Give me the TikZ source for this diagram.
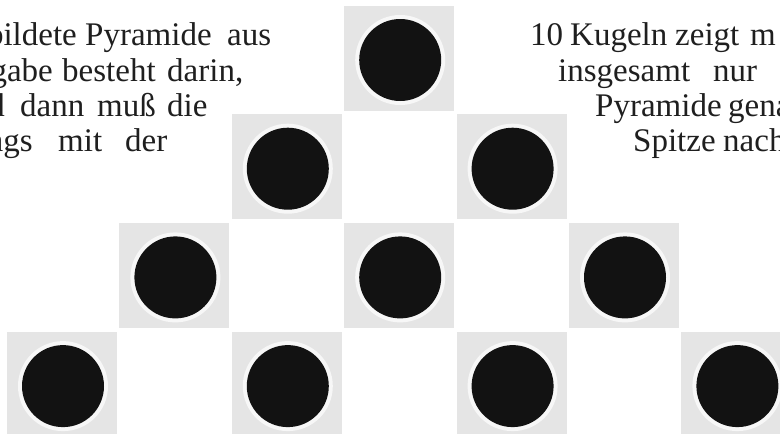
\documentclass[tikz,border=0pt]{standalone}
\usepackage{fontspec}
\setmainfont{Liberation Serif}
\begin{document}
\begin{tikzpicture}[x=1pt,y=-1pt,
  tile/.style={rectangle,fill=black!10,minimum width=110pt,minimum height=105pt,inner sep=0pt},
  halo/.style={circle,fill=black!3,minimum size=90pt,inner sep=0pt},
  ball/.style={circle,fill=black!93,minimum size=82pt,inner sep=0pt},
  txtL/.style={anchor=base west,inner sep=0pt,text=black!88,font=\fontsize{33}{36}\selectfont},
  txtR/.style={anchor=base east,inner sep=0pt,text=black!88,font=\fontsize{33}{36}\selectfont}]
\useasboundingbox (0,0) rectangle (780,434);
\fill[white] (0,0) rectangle (780,434);
\foreach \r in {0,1,2,3}{
  \foreach \i in {0,...,\r}{
    \pgfmathsetmacro{\cx}{63+112.4*(3-\r+2*\i)}
    \pgfmathsetmacro{\cy}{60+108.7*\r}
    \node[tile] (t\r\i) at (\cx-1,\cy-2) {};
    \node[halo] (h\r\i) at (\cx,\cy) {};
    \node[ball] (b\r\i) at (\cx,\cy) {};
  }
}
% left text block
\node[txtR] (l1a) at (77,45) {bildete};
\node[txtL] (l1b) at (85,45) {Pyramide};
\node[txtL] (l1c) at (227,45) {aus};
\node[txtR] (l2a) at (53,81) {gabe};
\node[txtL] (l2b) at (62,81) {besteht};
\node[txtL] (l2c) at (167,81) {darin,};
\node[txtR] (l3a) at (5,116.5) {d};
\node[txtL] (l3b) at (20,116.5) {dann};
\node[txtL] (l3c) at (97,116.5) {muß};
\node[txtL] (l3d) at (167,116.5) {die};
\node[txtR] (l4a) at (33,151) {ngs};
\node[txtL] (l4b) at (58,151) {mit};
\node[txtL] (l4c) at (125,151) {der};
% right text block
\node[txtL] (r1a) at (530,45) {10};
\node[txtL] (r1b) at (570,45) {Kugeln};
\node[txtL] (r1c) at (675,45) {zeigt};
\node[txtL] (r1d) at (750,45) {m};
\node[txtL] (r2a) at (558,81) {insgesamt};
\node[txtL] (r2b) at (713,81) {nur};
\node[txtL] (r3a) at (595,116.5) {Pyramide};
\node[txtL] (r3b) at (728,116.5) {gena};
\node[txtL] (r4a) at (633,151) {Spitze};
\node[txtL] (r4b) at (723,151) {nach};
\end{tikzpicture}
\end{document}
